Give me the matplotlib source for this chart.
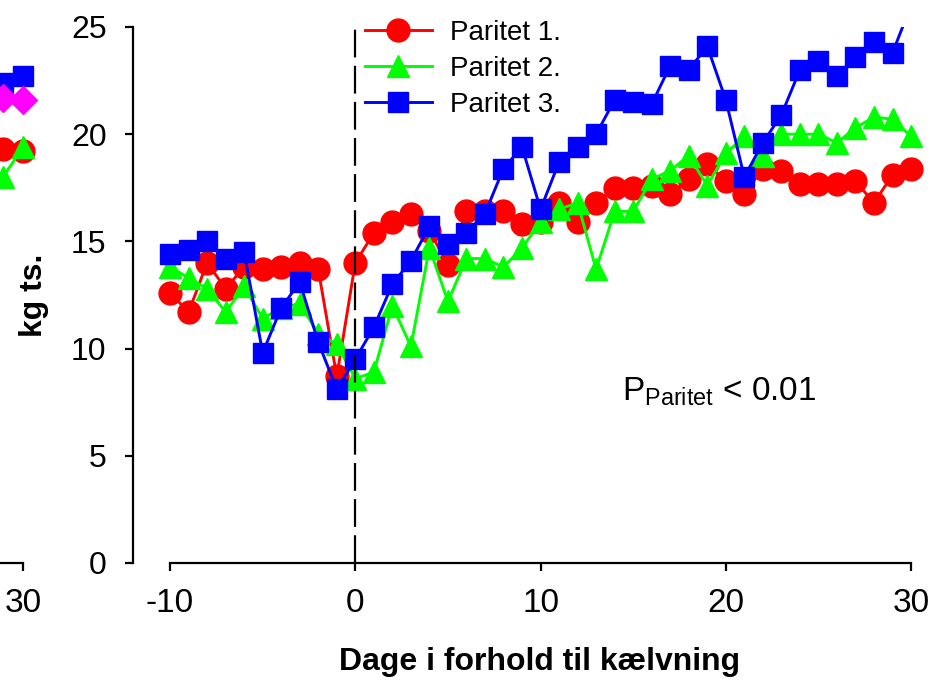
import matplotlib
matplotlib.use("Agg")
import matplotlib.pyplot as plt

plt.rcParams["font.family"] = ["Liberation Sans", "DejaVu Sans"]
plt.rcParams["mathtext.fontset"] = "custom"
plt.rcParams["mathtext.rm"] = "Liberation Sans"
plt.rcParams["lines.scale_dashes"] = False
plt.rcParams["axes.unicode_minus"] = False

# days relative to calving
days = list(range(-10, 31))

paritet1 = [12.6, 11.7, 14.0, 12.8, 13.8, 13.7, 13.8, 14.0, 13.7, 8.7,
            14.0, 15.4, 15.9, 16.3, 15.5, 13.9, 16.4, 16.4, 16.4, 15.8,
            15.9, 16.8, 15.9, 16.8, 17.5, 17.5, 17.6, 17.2, 17.9, 18.6,
            17.8, 17.2, 18.4, 18.3, 17.7, 17.7, 17.7, 17.8, 16.8, 18.1,
            18.4]
paritet2 = [13.8, 13.3, 12.8, 11.7, 12.9, 11.4, 11.9, 12.1, 10.7, 10.2,
            8.6, 8.9, 12.0, 10.1, 14.7, 12.2, 14.2, 14.2, 13.8, 14.7,
            15.9, 16.5, 16.8, 13.7, 16.4, 16.4, 17.9, 18.3, 19.0, 17.6,
            19.1, 19.9, 19.0, 20.0, 20.0, 20.0, 19.6, 20.3, 20.8, 20.7,
            19.9]
paritet3 = [14.4, 14.6, 15.0, 14.2, 14.5, 9.8, 11.9, 13.1, 10.3, 8.1,
            9.5, 11.0, 13.0, 14.1, 15.7, 14.9, 15.4, 16.3, 18.4, 19.4,
            16.5, 18.7, 19.4, 20.0, 21.6, 21.5, 21.4, 23.2, 23.0, 24.1,
            21.6, 18.0, 19.6, 20.9, 23.0, 23.4, 22.7, 23.6, 24.3, 23.8,
            26.0]

# neighbouring panel, only its last two days are inside the picture
left_days = [29, 30]
left_p1 = [19.3, 19.2]
left_p2 = [18.0, 19.4]
left_p3 = [22.4, 22.7]
left_p4 = [21.7, 21.6]

RED, GREEN, BLUE, MAGENTA = "#FF0000", "#00FF00", "#0000FF", "#FF00FF"
W, H = 945, 684


def style_axes(ax, xlim, xticks, yticks):
    ax.set_xlim(*xlim)
    ax.set_ylim(0, 25)
    for side in ["top", "right"]:
        ax.spines[side].set_visible(False)
    for side in ["left", "bottom"]:
        ax.spines[side].set_linewidth(1.6)
    ax.spines["bottom"].set_bounds(-10, 30)
    ax.set_xticks(xticks)
    ax.set_yticks(yticks)
    ax.tick_params(axis="both", direction="out", length=6, width=1.6)
    ax.tick_params(axis="x", labelsize=24, pad=12)
    ax.tick_params(axis="y", labelsize=23, pad=13)


fig = plt.figure(figsize=(W / 100, H / 100), dpi=100)

# main panel: x = -12 at px 133, 18.525 px per day
px_day = 18.525
x0_px = 133
ax_w = 43 * px_day
ax = fig.add_axes([x0_px / W, (H - 563) / H, ax_w / W, 536 / H])
style_axes(ax, (-12, 31), [-10, 0, 10, 20, 30], [0, 5, 10, 15, 20, 25])

line_kw = dict(linewidth=2.1)
ax.plot(days, paritet1, color=RED, marker="o", markersize=16.5, label="Paritet 1.", **line_kw)
ax.plot(days, paritet2, color=GREEN, marker="^", markersize=16, label="Paritet 2.", **line_kw)
ax.plot(days, paritet3, color=BLUE, marker="s", markersize=14.5, label="Paritet 3.", **line_kw)

ax.plot([0, 0], [0, 25], color="black", linewidth=1.6, dashes=(20, 6))

ax.text(14.4, 7.6, r"P$_{\mathrm{Paritet}}$ < 0.01", fontsize=24, ha="left", va="baseline")

ax.set_ylabel("kg ts.", fontsize=23, fontweight="bold")
ax.yaxis.set_label_coords(-(x0_px - 34) / ax_w, 0.5)
ax.yaxis.label.set_va("center")
ax.set_xlabel("Dage i forhold til kælvning", fontsize=23, fontweight="bold")
ax.xaxis.set_label_coords((540 - x0_px) / ax_w, -(662 - 563) / 536)
ax.xaxis.label.set_va("center")

ax.legend(loc="upper left", bbox_to_anchor=(365 / W, 1 - 20 / H), bbox_transform=fig.transFigure,
          frameon=False, fontsize=20, handlelength=2.4, handletextpad=0.65,
          labelspacing=0.36, borderpad=0, borderaxespad=0)

# left neighbour panel, cut by the picture edge: day 30 at px 23, 20 px per day
px_day_l = 20
right_px = 23 + px_day_l
axl = fig.add_axes([(right_px - 43 * px_day_l) / W, (H - 563) / H, 43 * px_day_l / W, 536 / H])
style_axes(axl, (-12, 31), [30], [])
axl.patch.set_alpha(0)
axl.spines["left"].set_visible(False)
axl.plot(left_days, left_p1, color=RED, marker="o", markersize=16.5, **line_kw)
axl.plot(left_days, left_p2, color=GREEN, marker="^", markersize=16, **line_kw)
axl.plot(left_days, left_p3, color=BLUE, marker="s", markersize=14.5, **line_kw)
axl.plot(left_days, left_p4, color=MAGENTA, marker="D", markersize=14, **line_kw)

fig.savefig("out.png", dpi=100)
